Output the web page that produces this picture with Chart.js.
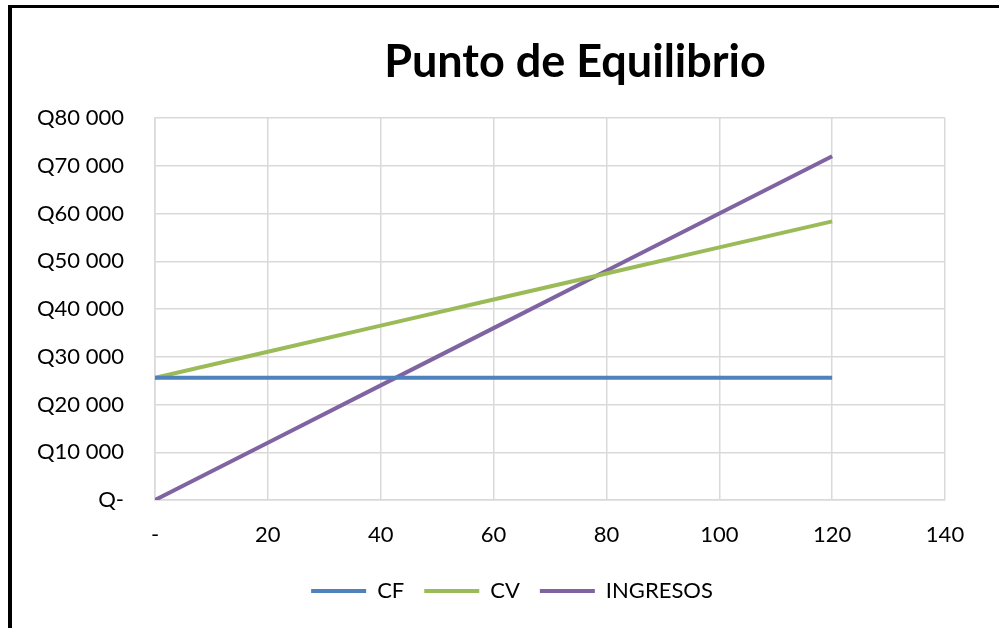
<!DOCTYPE html>
<html>
<head>
<meta charset="utf-8">
<script src="https://cdn.jsdelivr.net/npm/chart.js@4.4.0/dist/chart.umd.min.js"></script>
<style>
  html, body { margin: 0; padding: 0; background: #fff; overflow: hidden; }
  #marco { position: absolute; left: 8px; top: 5px; width: 1200px; height: 700px;
           border-left: 4px solid #000; border-top: 3px solid #000; }
  #wrap { position: absolute; left: 12px; top: 8px; width: 1000px; height: 620px; }
</style>
</head>
<body>
<div id="marco"></div>
<div id="wrap"><canvas id="equilibrio"></canvas></div>
<script>
const unidades = [0, 20, 40, 60, 80, 100, 120];
const costoFijo = [25600, 25600, 25600, 25600, 25600, 25600, 25600];
const costoVariable = [25600, 31060, 36520, 41980, 47440, 52900, 58360];
const ingresos = [0, 12000, 24000, 36000, 48000, 60000, 72000];

const toPoints = (ys) => unidades.map((u, i) => ({x: u, y: ys[i]}));

const fuente = "Lato, 'Open Sans', sans-serif";
Chart.defaults.font.family = fuente;
Chart.defaults.color = '#000';

// titulo dibujado a mano para centrarlo igual que en el original
const tituloPlugin = {
  id: 'titulo',
  afterDraw(chart) {
    const ctx = chart.ctx;
    ctx.save();
    ctx.font = 'bold 45px ' + fuente;
    ctx.fillStyle = '#000';
    ctx.textAlign = 'center';
    ctx.textBaseline = 'middle';
    ctx.fillText('Punto de Equilibrio', 575 - 12, 62 - 8);
    ctx.restore();
  }
};

const formatoQ = (v) => v === 0 ? 'Q-' : 'Q' + String(v).replace(/\B(?=(\d{3})+(?!\d))/g, ' ');

const config = {
  type: 'line',
  data: {
    datasets: [
      {label: 'CF', data: toPoints(costoFijo), borderColor: '#4f81bd', backgroundColor: '#4f81bd', borderWidth: 4},
      {label: 'CV', data: toPoints(costoVariable), borderColor: '#9bbb59', backgroundColor: '#9bbb59', borderWidth: 4},
      {label: 'INGRESOS', data: toPoints(ingresos), borderColor: '#8064a2', backgroundColor: '#8064a2', borderWidth: 4}
    ]
  },
  options: {
    responsive: true,
    maintainAspectRatio: false,
    animation: false,
    elements: {
      line: {tension: 0},
      point: {radius: 0}
    },
    layout: {padding: {top: 110, right: 0, bottom: 16, left: 0}},
    scales: {
      x: {
        type: 'linear',
        min: 0,
        max: 140,
        ticks: {stepSize: 20, padding: 22, font: {size: 22}, callback: (v) => v === 0 ? '-' : v},
        grid: {color: '#d9d9d9', lineWidth: 1.5, drawTicks: false},
        border: {color: '#d9d9d9', width: 1.5},
        afterFit: (s) => { s.height = 60; }
      },
      y: {
        min: 0,
        max: 80000,
        ticks: {stepSize: 10000, padding: 31, font: {size: 22}, callback: formatoQ},
        grid: {color: '#d9d9d9', lineWidth: 1.5, drawTicks: false},
        border: {color: '#d9d9d9', width: 1.5},
        afterFit: (s) => { s.width = 143; }
      },
      // eje vacio a la derecha, solo reserva espacio
      margen: {
        position: 'right',
        min: 0,
        max: 1,
        ticks: {display: false},
        grid: {display: false, drawTicks: false},
        border: {display: false},
        afterFit: (s) => { s.width = 67; }
      }
    },
    plugins: {
      legend: {
        position: 'bottom',
        labels: {
          usePointStyle: true,
          pointStyle: 'line',
          pointStyleWidth: 55,
          boxHeight: 4,
          padding: 20,
          font: {size: 22}
        }
      },
      tooltip: {enabled: false}
    }
  },
  plugins: [tituloPlugin]
};

const grafico = new Chart(document.getElementById('equilibrio'), config);
</script>
</body>
</html>
